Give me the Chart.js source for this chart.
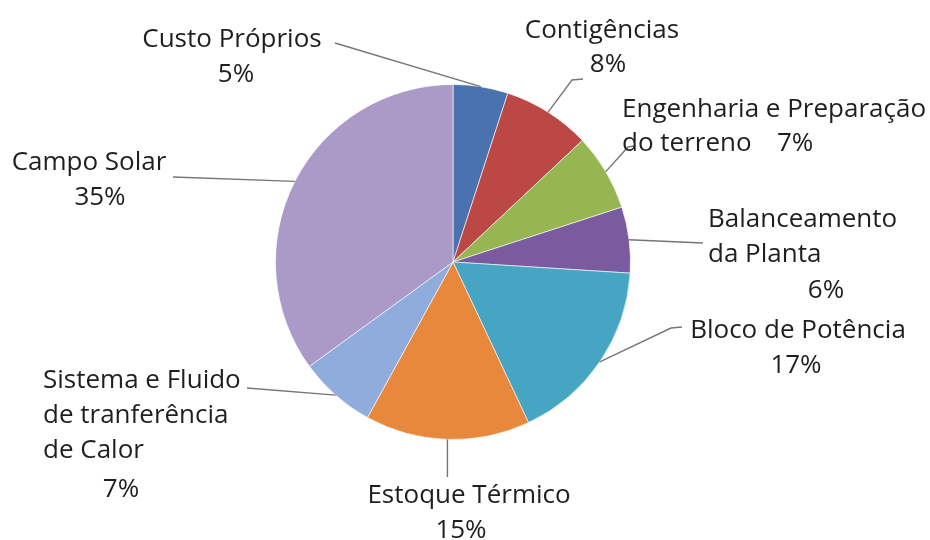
<!DOCTYPE html>
<html lang="pt-br">
<head>
  <meta charset="UTF-8">
  <title>Custos</title>
  <style>
    body {
      margin: 0;
      background: #ffffff;
    }
    #wrap {
      width: 930px;
      height: 540px;
    }
  </style>
</head>
<body>
  <div id="wrap">
    <canvas id="pie" width="930" height="540"></canvas>
  </div>

  <script src="https://cdn.jsdelivr.net/npm/chart.js"></script>
  <script>
    // categorias (com quebras de linha) e percentuais
    const categories = [
      ['Custo Próprios'],
      ['Contigências'],
      ['Engenharia e Preparação', 'do terreno'],
      ['Balanceamento', 'da Planta'],
      ['Bloco de Potência'],
      ['Estoque Térmico'],
      ['Sistema e Fluido', 'de tranferência', 'de Calor'],
      ['Campo Solar']
    ];
    const values = [5, 8, 7, 6, 17, 15, 7, 35];
    const colors = ['#4a72ae', '#bc4845', '#95b651', '#7a5b9f', '#46a5c2', '#e8883c', '#90acdc', '#ab9ac7'];

    // posição de cada rótulo: linhas de texto, linha do percentual e pontos da linha guia
    const labelLayout = [
      { lines: [[232, 47, 'center']], pct: [236, 82, 'center'], leader: [[335, 43]] },
      { lines: [[602, 38, 'center']], pct: [608, 72, 'center'], leader: [[572, 80], [583, 79]] },
      { lines: [[622, 117, 'left'], [622, 151, 'left']], pct: [777, 151, 'left'], leader: [[628, 147], [634, 146]] },
      { lines: [[708, 227, 'left'], [708, 262, 'left']], pct: [826, 298, 'center'], leader: [[703, 243]] },
      { lines: [[798, 338, 'center']], pct: [796, 373, 'center'], leader: [[671, 328], [682, 327]] },
      { lines: [[469, 503, 'center']], pct: [461, 538, 'center'], leader: [[null, 477]] },
      { lines: [[43, 388, 'left'], [43, 423, 'left'], [43, 458, 'left']], pct: [121, 497, 'center'], leader: [[247, 388]] },
      { lines: [[89, 170, 'center']], pct: [100, 205, 'center'], leader: [[173, 177]] }
    ];

    const outsideLabels = {
      id: 'outsideLabels',
      afterDatasetsDraw(chart) {
        const ctx = chart.ctx;
        const arcs = chart.getDatasetMeta(0).data;
        ctx.save();

        // linhas guia
        ctx.strokeStyle = '#767676';
        ctx.lineWidth = 1.4;
        arcs.forEach((arc, i) => {
          const p = arc.getProps(['x', 'y', 'startAngle', 'endAngle', 'outerRadius'], true);
          const mid = (p.startAngle + p.endAngle) / 2;
          let x = p.x + Math.cos(mid) * p.outerRadius;
          let y = p.y + Math.sin(mid) * p.outerRadius;
          ctx.beginPath();
          ctx.moveTo(x, y);
          labelLayout[i].leader.forEach(pt => {
            x = pt[0] === null ? x : pt[0];
            y = pt[1];
            ctx.lineTo(x, y);
          });
          ctx.stroke();
        });

        // textos
        ctx.fillStyle = '#1f1f1f';
        ctx.font = '26px "Open Sans", sans-serif';
        ctx.textBaseline = 'alphabetic';
        categories.forEach((lines, i) => {
          const lay = labelLayout[i];
          lines.forEach((txt, j) => {
            const [lx, ly, align] = lay.lines[j];
            ctx.textAlign = align;
            ctx.fillText(txt, lx, ly);
          });
          const [px, py, palign] = lay.pct;
          ctx.textAlign = palign;
          ctx.fillText(values[i] + '%', px, py);
        });

        ctx.restore();
      }
    };

    new Chart(document.getElementById('pie'), {
      type: 'pie',
      data: {
        labels: categories,
        datasets: [{
          data: values,
          backgroundColor: colors,
          borderColor: 'rgba(255, 255, 255, 0.6)',
          borderWidth: 1
        }]
      },
      options: {
        responsive: false,
        animation: false,
        layout: {
          padding: { left: 275, top: 84, right: 299, bottom: 100 }
        },
        plugins: {
          legend: { display: false },
          tooltip: { enabled: false }
        }
      },
      plugins: [outsideLabels]
    });
  </script>
</body>
</html>
